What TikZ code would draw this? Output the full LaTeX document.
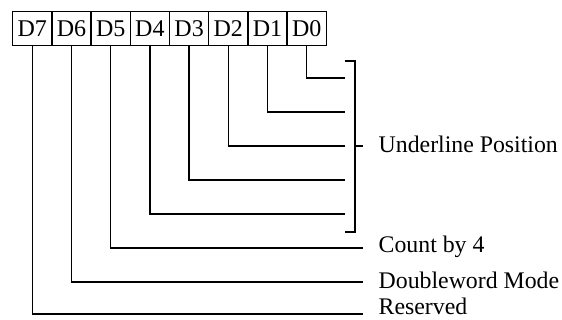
\documentclass[tikz,border=0pt]{standalone}
\usepackage{fontspec}
\setmainfont{Liberation Serif}
\begin{document}
\begin{tikzpicture}[x=1pt,y=-1pt,line width=1.4pt,
  bit/.style={draw,minimum width=39.2pt,minimum height=34pt,inner sep=0pt,
    font=\fontsize{24}{24}\selectfont,anchor=north west},
  lab/.style={anchor=base west,inner sep=0pt,font=\fontsize{23.8}{24}\selectfont}]
\useasboundingbox (0,0) rectangle (562,320);
\node[bit] (b7) at (12,11) {D7};
\node[bit] (b6) at (51.2,11) {D6};
\node[bit] (b5) at (90.4,11) {D5};
\node[bit] (b4) at (129.6,11) {D4};
\node[bit] (b3) at (168.8,11) {D3};
\node[bit] (b2) at (208,11) {D2};
\node[bit] (b1) at (247.2,11) {D1};
\node[bit] (b0) at (286.4,11) {D0};
% line ends
\coordinate (e0) at (345,78);
\coordinate (e1) at (345,112);
\coordinate (e2) at (345,146);
\coordinate (e3) at (345,180);
\coordinate (e4) at (345,214);
\coordinate (e5) at (363,248);
\coordinate (e6) at (363,282);
\coordinate (e7) at (363,314);
\foreach \k in {0,...,7}{\draw (b\k.south) |- (e\k);}
% bracket
\coordinate (bt) at (345,61);
\coordinate (bb) at (345,232);
\coordinate (bm) at (355,146);
\coordinate (bx) at (363,146);
\draw (bt) -- ++(10,0) |- (bb);
\draw (bm) -- (bx);
% labels
\node[lab] (l1) at (378,153) {Underline Position};
\node[lab] (l2) at (378,253) {Count by 4};
\node[lab] (l3) at (378,289) {Doubleword Mode};
\node[lab] (l4) at (378,314.5) {Reserved};
\end{tikzpicture}
\end{document}
